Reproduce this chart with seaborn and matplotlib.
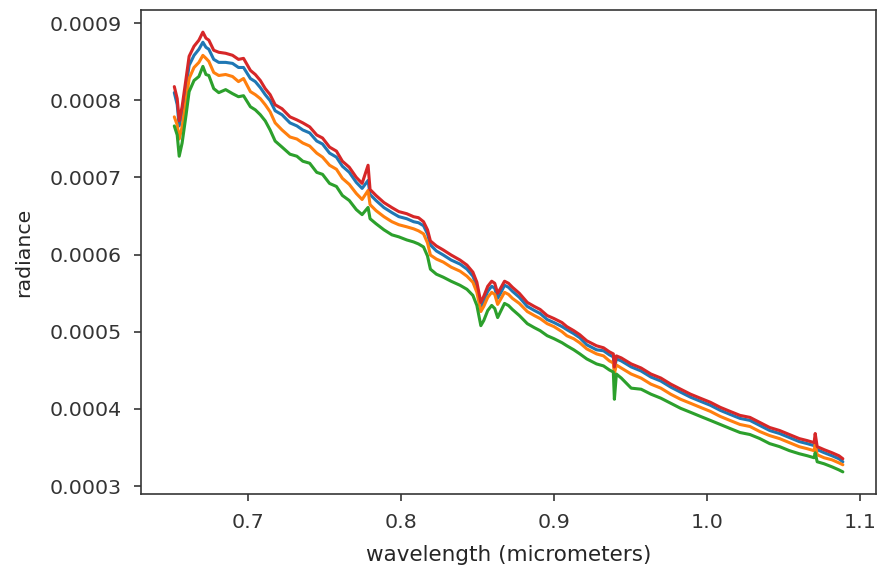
import numpy as np
import pandas as pd
import seaborn as sns
import matplotlib
matplotlib.use("Agg")
import matplotlib.pyplot as plt

# wavelength samples (micrometers)
wavelength = [
    0.6515, 0.6534, 0.6547, 0.6566, 0.6592, 0.6612, 0.6644, 0.6676, 0.6702, 0.6722,
    0.6741, 0.6773, 0.6806, 0.6851, 0.6896, 0.6935, 0.6968, 0.7013, 0.7045, 0.7078,
    0.7110, 0.7142, 0.7175, 0.7220, 0.7272, 0.7317, 0.7356, 0.7401, 0.7447, 0.7485,
    0.7531, 0.7576, 0.7615, 0.7660, 0.7706, 0.7744, 0.7783, 0.7796, 0.7835, 0.7887,
    0.7939, 0.7984, 0.8036, 0.8081, 0.8113, 0.8146, 0.8172, 0.8191, 0.8230, 0.8275,
    0.8327, 0.8385, 0.8430, 0.8469, 0.8495, 0.8521, 0.8540, 0.8566, 0.8592, 0.8612,
    0.8631, 0.8650, 0.8676, 0.8702, 0.8728, 0.8773, 0.8825, 0.8871, 0.8909, 0.8955,
    0.9000, 0.9052, 0.9084, 0.9129, 0.9168, 0.9214, 0.9278, 0.9324, 0.9362, 0.9388,
    0.9395, 0.9408, 0.9440, 0.9505, 0.9570, 0.9634, 0.9699, 0.9764, 0.9828, 0.9893,
    0.9958, 1.0023, 1.0087, 1.0152, 1.0217, 1.0282, 1.0346, 1.0411, 1.0476, 1.0540,
    1.0605, 1.0657, 1.0702, 1.0709, 1.0722, 1.0767, 1.0819, 1.0864, 1.0890,
]

radiance_blue = [
    8.098e-4, 7.942e-4, 7.667e-4, 7.837e-4, 8.176e-4, 8.451e-4, 8.581e-4, 8.660e-4, 8.751e-4, 8.686e-4,
    8.660e-4, 8.529e-4, 8.490e-4, 8.490e-4, 8.477e-4, 8.424e-4, 8.424e-4, 8.281e-4, 8.241e-4, 8.163e-4,
    8.072e-4, 7.994e-4, 7.863e-4, 7.811e-4, 7.706e-4, 7.667e-4, 7.614e-4, 7.576e-4, 7.471e-4, 7.432e-4,
    7.314e-4, 7.262e-4, 7.144e-4, 7.066e-4, 6.935e-4, 6.857e-4, 6.960e-4, 6.778e-4, 6.700e-4, 6.608e-4,
    6.543e-4, 6.491e-4, 6.464e-4, 6.425e-4, 6.412e-4, 6.373e-4, 6.268e-4, 6.124e-4, 6.046e-4, 5.994e-4,
    5.928e-4, 5.876e-4, 5.811e-4, 5.719e-4, 5.589e-4, 5.314e-4, 5.393e-4, 5.523e-4, 5.589e-4, 5.562e-4,
    5.432e-4, 5.497e-4, 5.602e-4, 5.575e-4, 5.523e-4, 5.445e-4, 5.327e-4, 5.275e-4, 5.236e-4, 5.157e-4,
    5.118e-4, 5.066e-4, 5.026e-4, 4.974e-4, 4.922e-4, 4.830e-4, 4.765e-4, 4.752e-4, 4.700e-4, 4.673e-4,
    4.520e-4, 4.647e-4, 4.621e-4, 4.543e-4, 4.490e-4, 4.412e-4, 4.360e-4, 4.281e-4, 4.216e-4, 4.151e-4,
    4.098e-4, 4.046e-4, 3.981e-4, 3.928e-4, 3.876e-4, 3.850e-4, 3.785e-4, 3.719e-4, 3.680e-4, 3.628e-4,
    3.575e-4, 3.549e-4, 3.523e-4, 3.600e-4, 3.471e-4, 3.432e-4, 3.392e-4, 3.353e-4, 3.314e-4,
]

radiance_orange = [
    7.784e-4, 7.680e-4, 7.497e-4, 7.654e-4, 7.993e-4, 8.281e-4, 8.424e-4, 8.490e-4, 8.581e-4, 8.543e-4,
    8.503e-4, 8.359e-4, 8.320e-4, 8.333e-4, 8.307e-4, 8.241e-4, 8.281e-4, 8.111e-4, 8.072e-4, 8.020e-4,
    7.941e-4, 7.850e-4, 7.706e-4, 7.614e-4, 7.523e-4, 7.497e-4, 7.445e-4, 7.406e-4, 7.314e-4, 7.262e-4,
    7.157e-4, 7.105e-4, 6.987e-4, 6.909e-4, 6.791e-4, 6.713e-4, 6.830e-4, 6.647e-4, 6.569e-4, 6.490e-4,
    6.425e-4, 6.386e-4, 6.359e-4, 6.333e-4, 6.307e-4, 6.268e-4, 6.150e-4, 5.993e-4, 5.941e-4, 5.902e-4,
    5.836e-4, 5.784e-4, 5.719e-4, 5.640e-4, 5.510e-4, 5.261e-4, 5.327e-4, 5.444e-4, 5.510e-4, 5.483e-4,
    5.353e-4, 5.418e-4, 5.510e-4, 5.483e-4, 5.431e-4, 5.366e-4, 5.261e-4, 5.209e-4, 5.170e-4, 5.104e-4,
    5.065e-4, 5.000e-4, 4.947e-4, 4.908e-4, 4.856e-4, 4.777e-4, 4.712e-4, 4.686e-4, 4.621e-4, 4.594e-4,
    4.460e-4, 4.568e-4, 4.529e-4, 4.451e-4, 4.398e-4, 4.320e-4, 4.268e-4, 4.189e-4, 4.124e-4, 4.072e-4,
    4.019e-4, 3.967e-4, 3.902e-4, 3.849e-4, 3.797e-4, 3.771e-4, 3.706e-4, 3.653e-4, 3.614e-4, 3.562e-4,
    3.509e-4, 3.483e-4, 3.457e-4, 3.540e-4, 3.405e-4, 3.366e-4, 3.339e-4, 3.300e-4, 3.275e-4,
]

radiance_green = [
    7.666e-4, 7.549e-4, 7.274e-4, 7.444e-4, 7.810e-4, 8.111e-4, 8.255e-4, 8.307e-4, 8.438e-4, 8.333e-4,
    8.320e-4, 8.150e-4, 8.098e-4, 8.137e-4, 8.085e-4, 8.045e-4, 8.058e-4, 7.915e-4, 7.875e-4, 7.811e-4,
    7.732e-4, 7.614e-4, 7.470e-4, 7.392e-4, 7.300e-4, 7.274e-4, 7.209e-4, 7.183e-4, 7.065e-4, 7.039e-4,
    6.921e-4, 6.882e-4, 6.765e-4, 6.700e-4, 6.582e-4, 6.517e-4, 6.610e-4, 6.464e-4, 6.399e-4, 6.320e-4,
    6.255e-4, 6.229e-4, 6.189e-4, 6.163e-4, 6.137e-4, 6.098e-4, 5.980e-4, 5.810e-4, 5.745e-4, 5.706e-4,
    5.653e-4, 5.601e-4, 5.549e-4, 5.470e-4, 5.340e-4, 5.078e-4, 5.144e-4, 5.274e-4, 5.340e-4, 5.300e-4,
    5.183e-4, 5.261e-4, 5.366e-4, 5.339e-4, 5.287e-4, 5.209e-4, 5.104e-4, 5.052e-4, 5.013e-4, 4.948e-4,
    4.909e-4, 4.857e-4, 4.817e-4, 4.765e-4, 4.713e-4, 4.647e-4, 4.582e-4, 4.556e-4, 4.504e-4, 4.477e-4,
    4.124e-4, 4.451e-4, 4.399e-4, 4.268e-4, 4.254e-4, 4.190e-4, 4.138e-4, 4.072e-4, 4.007e-4, 3.955e-4,
    3.902e-4, 3.850e-4, 3.798e-4, 3.745e-4, 3.693e-4, 3.667e-4, 3.615e-4, 3.549e-4, 3.510e-4, 3.458e-4,
    3.418e-4, 3.392e-4, 3.366e-4, 3.430e-4, 3.314e-4, 3.288e-4, 3.248e-4, 3.209e-4, 3.183e-4,
]

radiance_red = [
    8.176e-4, 8.020e-4, 7.732e-4, 7.915e-4, 8.281e-4, 8.569e-4, 8.699e-4, 8.778e-4, 8.882e-4, 8.804e-4,
    8.778e-4, 8.647e-4, 8.621e-4, 8.608e-4, 8.582e-4, 8.529e-4, 8.542e-4, 8.386e-4, 8.333e-4, 8.255e-4,
    8.150e-4, 8.072e-4, 7.941e-4, 7.889e-4, 7.784e-4, 7.745e-4, 7.706e-4, 7.654e-4, 7.549e-4, 7.510e-4,
    7.392e-4, 7.340e-4, 7.209e-4, 7.131e-4, 7.000e-4, 6.922e-4, 7.157e-4, 6.843e-4, 6.765e-4, 6.673e-4,
    6.608e-4, 6.556e-4, 6.529e-4, 6.490e-4, 6.477e-4, 6.425e-4, 6.320e-4, 6.176e-4, 6.111e-4, 6.059e-4,
    5.993e-4, 5.928e-4, 5.863e-4, 5.771e-4, 5.641e-4, 5.379e-4, 5.458e-4, 5.588e-4, 5.654e-4, 5.627e-4,
    5.497e-4, 5.562e-4, 5.654e-4, 5.627e-4, 5.575e-4, 5.497e-4, 5.379e-4, 5.327e-4, 5.288e-4, 5.209e-4,
    5.170e-4, 5.118e-4, 5.065e-4, 5.013e-4, 4.961e-4, 4.882e-4, 4.817e-4, 4.791e-4, 4.739e-4, 4.712e-4,
    4.542e-4, 4.686e-4, 4.660e-4, 4.582e-4, 4.529e-4, 4.451e-4, 4.399e-4, 4.320e-4, 4.255e-4, 4.190e-4,
    4.137e-4, 4.085e-4, 4.020e-4, 3.967e-4, 3.915e-4, 3.889e-4, 3.824e-4, 3.758e-4, 3.719e-4, 3.667e-4,
    3.614e-4, 3.588e-4, 3.562e-4, 3.680e-4, 3.510e-4, 3.471e-4, 3.431e-4, 3.392e-4, 3.353e-4,
]

series_names = ["pixel 1", "pixel 2", "pixel 3", "pixel 4"]
series_values = [radiance_blue, radiance_orange, radiance_green, radiance_red]

# long format table for seaborn
frames = []
for name, vals in zip(series_names, series_values):
    frames.append(pd.DataFrame({"wavelength": wavelength, "radiance": vals, "spectrum": name}))
df = pd.concat(frames, ignore_index=True)

sns.set_style("ticks")
plt.rcParams["font.family"] = ["DejaVu Sans"]

fig, ax = plt.subplots(figsize=(6, 3.84), dpi=147.67)
fig.subplots_adjust(left=0.159, right=0.989, top=0.982, bottom=0.129)

sns.lineplot(
    data=df, x="wavelength", y="radiance", hue="spectrum",
    palette=sns.color_palette("tab10", 4), linewidth=1.5,
    estimator=None, sort=False, legend=False, ax=ax,
)

for side in ["top", "right", "left", "bottom"]:
    ax.spines[side].set_color("#333333")
    ax.spines[side].set_linewidth(0.8)
ax.tick_params(colors="#333333", labelsize=10, length=3.5, width=0.8, pad=6)

ax.set_xlabel("wavelength (micrometers)", fontsize=10.5, labelpad=6)
ax.set_ylabel("radiance", fontsize=10, labelpad=8)

fig.savefig("out.png", dpi=147.67)
